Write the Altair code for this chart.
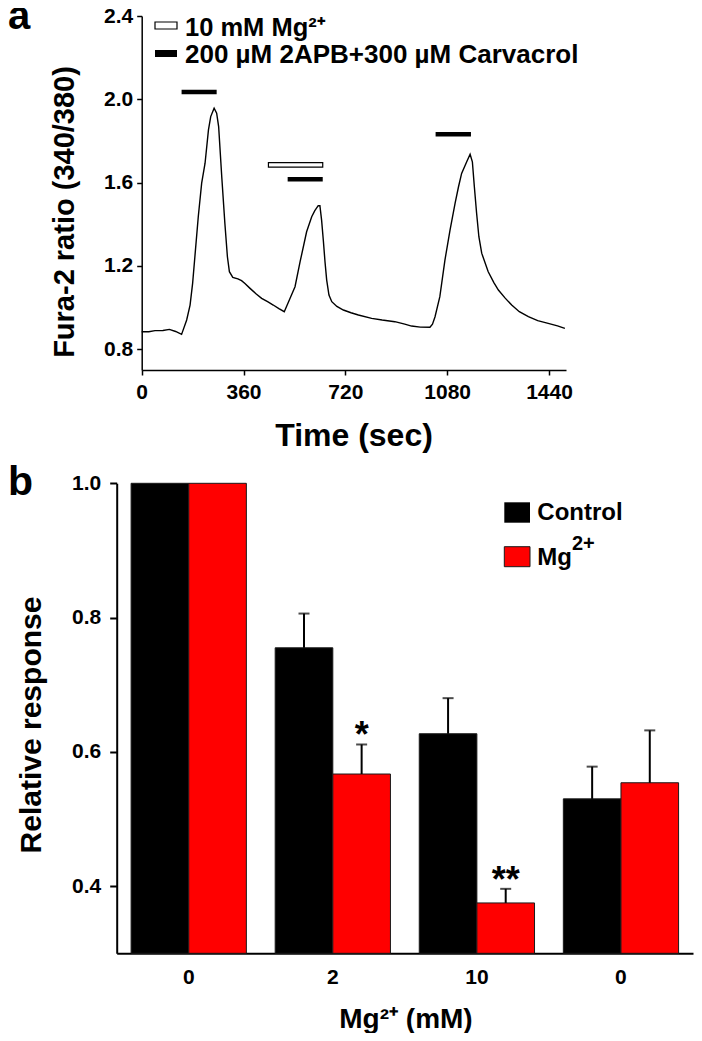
import json
import altair as alt
import pandas as pd

FONT = "Liberation Sans"

# ---------------- Panel a data ----------------
time_s = [0, 25, 47, 75, 98, 120, 141, 159, 171, 180, 188, 200, 212, 224, 236, 244, 256,
          265, 272, 283, 294, 303, 310, 322, 340, 353, 365, 383, 405, 424, 445, 465, 485,
          504, 520, 542, 560, 583, 601, 612, 624, 630, 636, 642, 648, 654, 662, 672, 690,
          713, 740, 766, 813, 850, 895, 930, 954, 985, 1019, 1028, 1037, 1054, 1072, 1090,
          1108, 1120, 1131, 1149, 1161, 1169, 1176, 1184, 1192, 1202, 1225, 1245, 1261,
          1285, 1308, 1335, 1367, 1400, 1437, 1470, 1496]
ratio = [0.884, 0.884, 0.889, 0.890, 0.895, 0.885, 0.871, 0.940, 1.012, 1.116, 1.244,
         1.436, 1.597, 1.693, 1.853, 1.917, 1.957, 1.933, 1.869, 1.628, 1.405, 1.244,
         1.172, 1.145, 1.138, 1.129, 1.115, 1.092, 1.065, 1.044, 1.028, 1.012, 0.995,
         0.980, 1.030, 1.100, 1.220, 1.364, 1.436, 1.465, 1.489, 1.489, 1.420, 1.324,
         1.220, 1.132, 1.060, 1.028, 1.005, 0.988, 0.975, 0.964, 0.948, 0.940, 0.932,
         0.920, 0.911, 0.906, 0.905, 0.920, 0.956, 1.052, 1.228, 1.372, 1.501, 1.580,
         1.644, 1.700, 1.736, 1.700, 1.580, 1.453, 1.340, 1.261, 1.172, 1.120, 1.084,
         1.045, 1.012, 0.980, 0.956, 0.937, 0.924, 0.912, 0.900]
drug_start = [141, 516, 1039]
drug_end = [265, 640, 1164]
drug_level = [2.035, 1.616, 1.832]
mg_start = [448]
mg_end = [640]
mg_low = [1.674]
mg_high = [1.696]
time_ticks = [0, 360, 720, 1080, 1440]
ratio_ticks = [0.8, 1.2, 1.6, 2.0, 2.4]
legend_a = ["10 mM Mg²⁺", "200 µM 2APB+300 µM Carvacrol"]
title_a_x = "Time (sec)"
title_a_y = "Fura-2 ratio (340/380)"

# ---------------- Panel b data ----------------
group_keys = ["0a", "2", "10", "0b"]
group_labels = ["0", "2", "10", "0"]
series = ["Control", "Mg2+"]
control_mean = [1.0, 0.755, 0.627, 0.530]
control_err = [0.0, 0.051, 0.053, 0.048]
mg_mean = [1.0, 0.567, 0.375, 0.554]
mg_err = [0.0, 0.044, 0.021, 0.078]
mg_stars = ["", "*", "**", ""]
resp_ticks = [0.4, 0.6, 0.8, 1.0]
title_b_x = "Mg²⁺ (mM)"
title_b_y = "Relative response"
legend_b = ["Control", "Mg"]
legend_b_sup = "2+"
panel_letters = ["a", "b"]

# ---------------- layout: page coordinates -> chart coordinates ----------------
PAD_TOP = 8
W = 686
H = 1041 - 16 - PAD_TOP


def PX(x):
    return x - 8


def PY(y):
    return y - 8 - PAD_TOP


A_X0, A_X1 = PX(141.7), PX(566.0)
A_YB, A_YT = PY(370.0), PY(16.0)
B_X0, B_X1 = PX(116.7), PX(693.0)
B_YB, B_YT = PY(953.3), PY(483.3)


def axis_style(**kw):
    base = dict(title=None, grid=False, domainColor="black", tickColor="black",
                labelColor="black", labelFont=FONT, labelFontSize=21,
                labelFontWeight="bold", labelFlush=False, labelOverlap=False)
    base.update(kw)
    return alt.Axis(**base)


def xa(field):
    return alt.X(field, type="quantitative",
                 scale=alt.Scale(domain=[0, 1500], range=[A_X0, A_X1], nice=False, zero=False),
                 axis=axis_style(orient="bottom", offset=A_YB - H, values=time_ticks,
                                 format="d", domainWidth=1.5, tickWidth=1.5, tickSize=5,
                                 labelPadding=6))


def ya(field):
    return alt.Y(field, type="quantitative",
                 scale=alt.Scale(domain=[0.7, 2.4], range=[A_YB, A_YT], nice=False, zero=False),
                 axis=axis_style(orient="left", offset=-A_X0, values=ratio_ticks,
                                 format=".1f", domainWidth=1.5, tickWidth=1.5, tickSize=5,
                                 labelPadding=4))


def text_chart(txt, x, y, size, angle=0, align="left", baseline="alphabetic"):
    kw = dict(font=FONT, fontSize=size, fontWeight="bold", color="black",
              align=align, baseline=baseline)
    if angle:
        kw["angle"] = angle
    return alt.Chart(pd.DataFrame({"t": [txt]})).mark_text(**kw).encode(
        x=alt.value(PX(x)), y=alt.value(PY(y)), text="t:N")


def rect_chart(label, x1, x2, y1, y2, **style):
    return alt.Chart(pd.DataFrame({"t": [label]})).mark_rect(**style).encode(
        x=alt.value(PX(x1)), x2=alt.value(PX(x2)), y=alt.value(PY(y1)), y2=alt.value(PY(y2)))


trace_df = pd.DataFrame({"t": time_s, "r": ratio})
drug_df = pd.DataFrame({"s": drug_start, "e": drug_end, "lvl": drug_level})
mg_df = pd.DataFrame({"s": mg_start, "e": mg_end, "lo": mg_low, "hi": mg_high})

trace = alt.Chart(trace_df).mark_line(color="black", strokeWidth=1.4).encode(
    x=xa("t"), y=ya("r"))
drug_bars = alt.Chart(drug_df).mark_rule(color="black", strokeWidth=4.5).encode(
    x=xa("s"), x2="e", y=ya("lvl"))
mg_bar = alt.Chart(mg_df).mark_rect(fill="white", stroke="black", strokeWidth=1.2).encode(
    x=xa("s"), x2="e", y=ya("lo"), y2="hi")

panel_a = alt.layer(
    trace, drug_bars, mg_bar,
    rect_chart(legend_a[0], 155, 177, 22, 29, fill="white", stroke="black", strokeWidth=1.2),
    rect_chart(legend_a[1], 155, 177, 50, 57, fill="black"),
    text_chart(legend_a[0], 185, 36, 25.5),
    text_chart(legend_a[1], 185, 63, 26),
    text_chart(title_a_x, 354, 446, 32, align="center"),
    text_chart(title_a_y, 74, 212, 29, angle=270, align="center"),
    text_chart(panel_letters[0], 8, 29, 40),
)

# ---------------- Panel b ----------------
rows = []
for k, cm, ce, mm, me, st in zip(group_keys, control_mean, control_err,
                                  mg_mean, mg_err, mg_stars):
    rows.append({"g": k, "s": series[0], "v": cm, "top": cm + ce, "err": ce, "star": ""})
    rows.append({"g": k, "s": series[1], "v": mm, "top": mm + me, "err": me, "star": st})
bar_df = pd.DataFrame(rows)
err_df = bar_df[bar_df["err"] > 0]
star_df = bar_df[bar_df["star"] != ""]

label_map = json.dumps(dict(zip(group_keys, group_labels)))

xb = alt.X("g:N", sort=group_keys,
           scale=alt.Scale(domain=group_keys, range=[B_X0, B_X1],
                           paddingInner=0.2, paddingOuter=0.1),
           axis=axis_style(orient="bottom", offset=B_YB - H, ticks=False, tickSize=0,
                           domainWidth=2, labelPadding=13, labelAngle=0,
                           labelExpr=f"{label_map}[datum.value]"))
xob = alt.XOffset("s:N", sort=series, scale=alt.Scale(domain=series))


def yb(field):
    return alt.Y(field, type="quantitative",
                 scale=alt.Scale(domain=[0.3, 1.0], range=[B_YB, B_YT], nice=False, zero=False),
                 axis=axis_style(orient="left", offset=-B_X0, values=resp_ticks,
                                 format=".1f", domainWidth=2, tickWidth=2, tickSize=7,
                                 labelPadding=9))


bars = alt.Chart(bar_df).mark_bar(stroke="#1a1a1a", strokeWidth=1).encode(
    x=xb, xOffset=xob, y=yb("v"), y2=alt.datum(0.3),
    color=alt.Color("s:N", scale=alt.Scale(domain=series, range=["#000000", "#ff0000"]),
                    legend=None))
err_lines = alt.Chart(err_df).mark_rule(color="black", strokeWidth=2).encode(
    x=xb, xOffset=xob, y=yb("v"), y2="top")
err_caps = alt.Chart(err_df).mark_tick(color="black", thickness=2, size=11,
                                       orient="horizontal").encode(
    x=xb, xOffset=xob, y=yb("top"))
stars = alt.Chart(star_df).mark_text(font=FONT, fontSize=36, fontWeight="bold",
                                     color="black", baseline="alphabetic", dy=3).encode(
    x=xb, xOffset=xob, y=yb("top"), text="star:N")

panel_b = alt.layer(
    bars, err_lines, err_caps, stars,
    rect_chart(series[0], 504.3, 530, 502.3, 522.7, fill="black"),
    rect_chart(series[1], 504.3, 530, 546.7, 566.7, fill="#ff0000", stroke="#1a1a1a",
               strokeWidth=1),
    text_chart(legend_b[0], 537.3, 520, 24),
    text_chart(legend_b[1], 537.3, 565, 24),
    text_chart(legend_b_sup, 572, 550, 20),
    text_chart(title_b_x, 406, 1028, 28, align="center"),
    text_chart(title_b_y, 41, 725, 30, angle=270, align="center"),
    text_chart(panel_letters[1], 8, 495, 41),
)

chart = alt.layer(panel_a, panel_b).resolve_scale(
    x="independent", y="independent", xOffset="independent", color="independent"
).properties(
    width=W, height=H,
    padding={"left": 0, "top": PAD_TOP, "right": 0, "bottom": 0},
    autosize="none",
).configure_view(stroke=None)

chart.save("out.html", embed_options={"renderer": "svg", "actions": False})
